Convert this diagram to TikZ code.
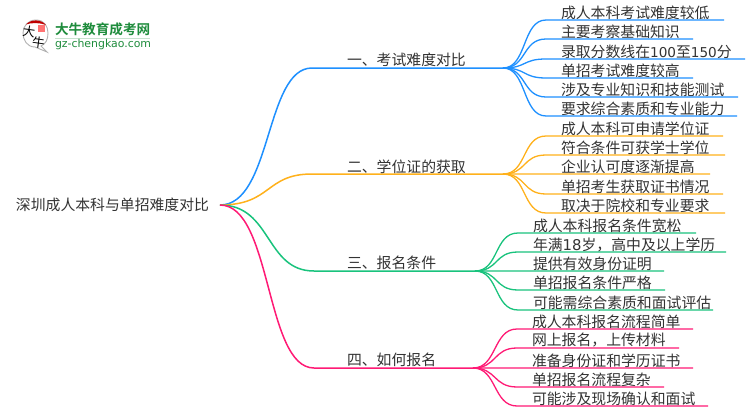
\documentclass[tikz,border=0pt]{standalone}
\usepackage{fontspec}
\setmainfont{Noto Sans CJK SC}
\newfontfamily\latf{DejaVu Sans}
\newfontfamily\logof[BoldFont=Noto Sans CJK SC Bold]{Noto Sans CJK SC}
\definecolor{cblue}{HTML}{1E90FF}
\definecolor{cgold}{HTML}{FFB11B}
\definecolor{cgreen}{HTML}{19C37D}
\definecolor{cpink}{HTML}{FF1A75}
\definecolor{ctext}{HTML}{333333}
\definecolor{lgreen}{HTML}{1E8C3C}
\tikzset{
  x=1pt,y=-1pt,
  every node/.style={inner sep=0pt,outer sep=0pt,text=ctext,font=\fontsize{14.85}{16}\selectfont},
  leaf/.style={anchor=west},
  wire/.style={line width=1.3pt},
  mainwire/.style={line width=1.5pt},
  logochar/.style={text=black,font=\fontsize{12.5}{13}\selectfont},
}
\newcommand{\leafline}[7]{%
  \coordinate (#1s) at (#6-15,#4);
  \coordinate (#1e) at (#5,#4+0.08);
  \node[leaf] (#1) at (#6,#4-7.5) {#7};
  \draw[wire,#3] (#2) .. controls ($(#2)+(24,0.05)$) and ($(#1s)+(-24,-0.05)$) .. (#1s) -- (#1e);
}
\usetikzlibrary{calc}
\begin{document}
\begin{tikzpicture}
\useasboundingbox (0,0) rectangle (750,410);
\fill[white] (0,0) rectangle (750,410);
% logo
\path[draw=black!30,line width=.9pt,fill=white] (36,20) .. controls (44,20) and (48,26) .. (48,33) .. controls (48,39) and (46,44) .. (41,46) -- (47,52) -- (35,47) .. controls (27,47) and (23,40) .. (23,33) .. controls (23,26) and (28,20) .. cycle;
\fill[red!75!black] (26,24.5) .. controls (31,19) and (41,19) .. (46,25) .. controls (40,22.5) and (31,22.5) .. (26,24.5) -- cycle;
\fill[red!55] (38,25) rectangle (45,32);
\node[logochar,rotate=-8] (logoa) at (29,32) {大};
\node[logochar,rotate=-8] (logob) at (38.5,43) {牛};
\node[text=lgreen,anchor=west,font=\fontsize{13.6}{14}\selectfont\logof\bfseries] (logot) at (55,29.5) {大牛教育成考网};
\fill[lgreen!25] (55,38) rectangle (150,39);
\node[text=lgreen,anchor=west,font=\fontsize{10.9}{12}\selectfont\latf] (logou) at (55,44.5) {gz-chengkao.com};
% root
\node[anchor=west] (root) at (16,205) {深圳成人本科与单招难度对比};
\coordinate (r) at (220,205);
% main branches
\coordinate (h1) at (503,68);
\coordinate (h2) at (503,174);
\coordinate (h3) at (475,271);
\coordinate (h4) at (473,368);
\coordinate (b1) at (312,68);
\coordinate (b2) at (312,174);
\coordinate (b3) at (314,271);
\coordinate (b4) at (314,368);
\draw[mainwire,cblue] (r) .. controls (272,205) and (265,68) .. (b1) -- (h1);
\draw[mainwire,cgold] (r) .. controls (272,205) and (265,174) .. (b2) -- (h2);
\draw[mainwire,cgreen] (r) .. controls (272,205) and (265,271) .. (b3) -- (h3);
\draw[mainwire,cpink] (r) .. controls (272,205) and (265,368) .. (b4) -- (h4);
\node[anchor=west] (t1) at (347,60) {一、考试难度对比};
\node[anchor=west] (t2) at (347,167) {二、学位证的获取};
\node[anchor=west] (t3) at (347,263) {三、报名条件};
\node[anchor=west] (t4) at (347,360) {四、如何报名};
% branch 1
\leafline{a1}{h1}{cblue}{20}{724}{561}{成人本科考试难度较低}
\leafline{a2}{h1}{cblue}{39}{693}{561}{主要考察基础知识}
\leafline{a3}{h1}{cblue}{59}{745}{561}{录取分数线在{\latf\fontsize{13.6}{16}\selectfont 100}至{\latf\fontsize{13.6}{16}\selectfont 150}分}
\leafline{a4}{h1}{cblue}{78}{693}{561}{单招考试难度较高}
\leafline{a5}{h1}{cblue}{97}{738}{561}{涉及专业知识和技能测试}
\leafline{a6}{h1}{cblue}{116}{737}{561}{要求综合素质和专业能力}
% branch 2
\leafline{b1l}{h2}{cgold}{136}{723}{561}{成人本科可申请学位证}
\leafline{b2l}{h2}{cgold}{155}{725}{561}{符合条件可获学士学位}
\leafline{b3l}{h2}{cgold}{174}{710}{561}{企业认可度逐渐提高}
\leafline{b4l}{h2}{cgold}{194}{723}{561}{单招考生获取证书情况}
\leafline{b5l}{h2}{cgold}{213}{725}{561}{取决于院校和专业要求}
% branch 3
\leafline{c1}{h3}{cgreen}{233}{696}{533}{成人本科报名条件宽松}
\leafline{c2}{h3}{cgreen}{252}{726}{533}{年满{\latf 18}岁，高中及以上学历}
\leafline{c3}{h3}{cgreen}{271}{664}{533}{提供有效身份证明}
\leafline{c4}{h3}{cgreen}{290}{665}{533}{单招报名条件严格}
\leafline{c5}{h3}{cgreen}{310}{713}{533}{可能需综合素质和面试评估}
% branch 4
\leafline{d1}{h4}{cpink}{329}{693}{532}{成人本科报名流程简单}
\leafline{d2}{h4}{cpink}{348}{679}{532}{网上报名，上传材料}
\leafline{d3}{h4}{cpink}{368}{693}{532}{准备身份证和学历证书}
\leafline{d4}{h4}{cpink}{387}{664}{532}{单招报名流程复杂}
\leafline{d5}{h4}{cpink}{406}{708}{532}{可能涉及现场确认和面试}
\end{tikzpicture}
\end{document}
